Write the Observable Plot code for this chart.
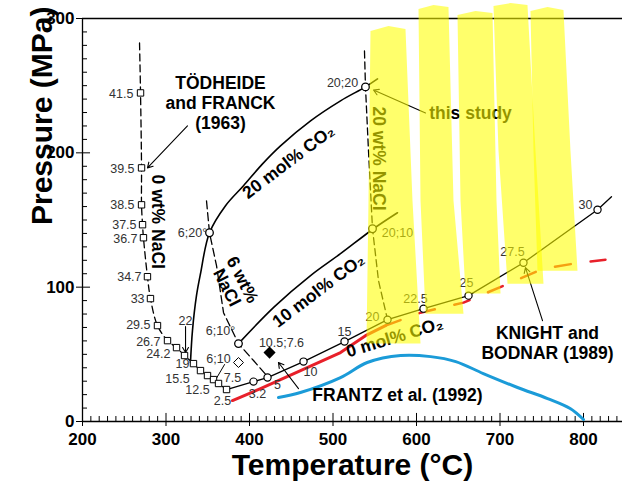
<!DOCTYPE html>
<html><head><meta charset="utf-8">
<script src="https://cdn.jsdelivr.net/npm/d3@7"></script>
<script src="https://cdn.jsdelivr.net/npm/@observablehq/plot@0.6"></script>
<style>html,body{margin:0;padding:0;background:#fff;}</style>
</head><body><div id="chart"></div>
<script>
// ---- axes ----
const xMajor = [200, 300, 400, 500, 600, 700, 800];
const xMinor = [210,220,230,240,250,260,270,280,290,310,320,330,340,350,360,370,380,390,410,420,430,440,450,460,470,480,490,510,520,530,540,550,560,570,580,590,610,620,630,640,650,660,670,680,690,710,720,730,740,750,760,770,780,790,810,820,830,840];
const yMajor = [0, 100, 200, 300];
const yMinor = [10,20,30,40,50,60,70,80,90,110,120,130,140,150,160,170,180,190,210,220,230,240,250,260,270,280,290];

// ---- Tödheide & Franck (1963), 0 wt% NaCl (squares) ----
const tfT = [269.5, 270.7, 270.7, 271.9, 273.0, 277.8, 281.4, 289.8, 301.8, 312.6, 322.2, 332.9, 341.3, 349.7, 356.9, 362.9, 372.5];
const tfP = [244.6, 188.8, 161.3, 146.5, 136.8, 107.8, 91.5, 71.4, 60.2, 55.0, 49.1, 43.1, 37.9, 34.2, 31.2, 28.3, 23.8];
const tfLineT = [268.3, 269.5, 270.7, 270.7, 271.9, 273.0, 277.8, 281.4, 289.8, 301.8, 312.6, 322.2, 332.9, 341.3, 349.7, 356.9, 362.9, 372.5];
const tfLineP = [281.8, 244.6, 188.8, 161.3, 146.5, 136.8, 107.8, 91.5, 71.4, 60.2, 55.0, 49.1, 43.1, 37.9, 34.2, 31.2, 28.3, 23.8];
const tfLabel = ["41.5", "39.5", "38.5", "37.5", "36.7", "34.7", "33", "29.5", "26.7", "24.2"];
const tfLabelT = [261.0, 262.3, 262.3, 264.7, 265.9, 270.7, 274.3, 281.4, 293.4, 305.4];
const tfLabelP = [243.9, 188.1, 161.3, 146.5, 136.0, 107.8, 91.5, 72.1, 59.5, 50.6];

// ---- Knight & Bodnar (1989), 0 mol% CO2 (circles) ----
const kbT = [404.8, 421.6, 464.7, 513.8, 565.3, 608.4, 662.3, 728.1, 816.8];
const kbP = [29.7, 32.7, 44.6, 59.5, 75.8, 84.0, 93.7, 118.2, 157.6];
const kbLineT = [372.5, 404.8, 421.6, 464.7, 513.8, 565.3, 608.4, 662.3, 728.1, 816.8, 833.5];
const kbLineP = [23.8, 29.7, 32.7, 44.6, 59.5, 75.8, 84.0, 93.7, 118.2, 157.6, 167.3];

// ---- this study ----
const studyT = [352.1, 538.9, 547.3, 386.8];
const studyP = [140.5, 249.1, 143.5, 58.0];
const mol20T = [329.3, 331.7, 336.5, 341.3, 352.1, 371.3, 392.8, 415.6, 437.1, 473.1, 509.0, 538.9, 553.3];
const mol20P = [43.9, 67.7, 93.7, 110.0, 140.5, 160.6, 175.5, 191.8, 205.2, 223.8, 238.7, 249.1, 255.0];
const mol10T = [386.8, 429.9, 473.1, 509.0, 548.5, 577.2];
const mol10P = [58.0, 85.5, 108.6, 124.9, 143.5, 155.4];
const wt6T = [348.5, 352.1, 360.5, 368.9, 386.8, 404.8, 422.8];
const wt6P = [164.3, 140.5, 116.0, 81.0, 58.0, 45.4, 32.7];
const wt20T = [537.7, 538.9, 542.5, 547.3, 554.5, 565.3];
const wt20P = [275.8, 249.1, 201.5, 143.5, 104.8, 75.8];

// ---- other points ----
const openDiamondT = [386.8], openDiamondP = [43.9];
const blackDiamondT = [424.0], blackDiamondP = [51.3];

// ---- red curve ----
const redSolidT = [379.6, 413.2, 461.1, 509.0, 538.9, 562.9];
const redSolidP = [15.6, 24.5, 37.9, 51.3, 63.9, 71.4];
const redDashT = [562.9, 604.8, 656.3, 704.2, 752.1, 788.0, 826.3];
const redDashP = [71.4, 81.0, 88.5, 101.1, 113.8, 117.5, 120.4];

// ---- Frantz et al. (1992), blue ----
const blueT = [434.7, 461.0, 509.0, 541.0, 581.0, 617.0, 647.0, 680.0, 721.0, 757.0, 784.0, 800.0];
const blueP = [17.8, 21.6, 32.7, 43.9, 49.1, 48.3, 44.6, 35.7, 25.3, 17.1, 9.7, 1.5];

// ---- point labels ----
const ptLabel = ["22", "19", "15.5", "12.5", "2.5", "7.5", "6;10", "10.5;7.6", "6;10°", "6;20°", "20;20", "20;10", "3.2", "5", "10", "15", "20", "22.5", "25", "27.5", "30"];
const ptLabelT = [323.4, 319.8, 313.8, 337.7, 367.7, 379.6, 362.9, 438.3, 365.3, 331.7, 511.4, 577.2, 409.6, 433.5, 473.0, 513.8, 547.3, 598.8, 659.9, 715.0, 802.4];
const ptLabelP = [75.1, 42.6, 31.8, 23.8, 14.9, 32.7, 46.8, 58.7, 67.7, 140.5, 252.0, 140.5, 20.8, 26.8, 37.2, 66.9, 78.1, 91.5, 103.3, 126.4, 161.3];

// ---- arrows & leaders ----
const arrowT1 = [325.7, 610.8, 458.7, 750.9, 323.4];
const arrowP1 = [220.1, 229.7, 24.5, 75.1, 70.6];
const arrowT2 = [277.8, 548.5, 434.7, 730.5, 323.4];
const arrowP2 = [188.8, 246.8, 43.9, 114.5, 51.3];
const leaderT = [358.1, 370.1], leaderP = [29.7, 42.4];

// ---- highlighter strokes ----
const bandT = [
  [544.9, 566.5, 586.8, 595.2, 604.8, 540.1, 542.5],
  [602.4, 620.4, 638.3, 644.3, 656.3, 610.8, 604.8],
  [649.1, 670.7, 691.0, 695.8, 700.6, 658.7, 652.7],
  [692.2, 712.6, 732.9, 742.5, 752.1, 709.0, 698.2],
  [736.5, 756.9, 776.0, 784.4, 792.8, 744.9, 740.1]
];
const bandP = [
  [290.7, 294.4, 292.2, 164.3, 58.0, 58.0, 164.3],
  [307.1, 310.0, 308.6, 164.3, 80.3, 80.3, 164.3],
  [302.6, 305.6, 304.1, 164.3, 95.2, 95.2, 164.3],
  [309.3, 311.5, 310.0, 201.5, 102.6, 102.6, 201.5],
  [305.6, 308.6, 306.3, 201.5, 112.3, 112.3, 201.5]
];

const rows = (T, P) => T.map((t, i) => ({T: t, P: P[i]}));
const lrows = (L, T, P) => L.map((s, i) => ({s, T: T[i], P: P[i]}));
const bands = bandT.flatMap((ts, b) => ts.map((t, j) => ({b, T: t, P: bandP[b][j]})));
const arrows = arrowT1.map((t, i) => ({x1: t, y1: arrowP1[i], x2: arrowT2[i], y2: arrowP2[i]}));

const F = "'Liberation Sans', Arial, Helvetica, sans-serif";
const bold = {fontWeight: "bold", fontSize: 17.5, fill: "black"};
const lab = {fontSize: 12.5, fill: "#333"};

const chart = Plot.plot({
  width: 622, height: 490,
  marginLeft: 82, marginRight: 0, marginTop: 18, marginBottom: 69,
  x: {domain: [200, 846.7], label: null},
  y: {domain: [0, 300], label: null},
  style: {fontFamily: F, background: "white", color: "black", overflow: "visible"},
  marks: [
    // frame and ticks
    Plot.ruleY([300], {stroke: "black", strokeWidth: 1.3}),
    Plot.ruleY([0], {stroke: "black", strokeWidth: 1.3}),
    Plot.ruleX([200], {stroke: "black", strokeWidth: 1.3}),
    Plot.ruleX(xMinor, {x: d => d, y1: 0, y2: 3.7, stroke: "black"}),
    Plot.ruleX(xMajor, {x: d => d, y1: 0, y2: 6, stroke: "black"}),
    Plot.ruleY(yMinor, {y: d => d, x1: 200, x2: 206, stroke: "black"}),
    Plot.ruleY(yMajor, {y: d => d, x1: 200, x2: 209.6, stroke: "black"}),
    Plot.axisX(xMajor, {tickSize: 5, tickPadding: 6, fontSize: 17, fontWeight: "bold", label: null, fill: "black"}),
    Plot.axisY(yMajor, {tickSize: 6, tickPadding: 2, fontSize: 17, fontWeight: "bold", label: null, fill: "black"}),
    Plot.text(["Temperature (°C)"], {text: d => d, frameAnchor: "bottom", dy: 53, fontSize: 30, fontWeight: "bold"}),
    Plot.text(["Pressure (MPa)"], {text: d => d, frameAnchor: "left", dx: -40, dy: 5, rotate: -90, fontSize: 30, fontWeight: "bold"}),

    // curves
    Plot.line(rows(blueT, blueP), {x: "T", y: "P", stroke: "#1b9bd8", strokeWidth: 3, curve: "catmull-rom"}),
    Plot.line(rows(redSolidT, redSolidP), {x: "T", y: "P", stroke: "#e8202a", strokeWidth: 3}),
    Plot.line(rows(redDashT, redDashP), {x: "T", y: "P", stroke: "#e8202a", strokeWidth: 2.5, strokeDasharray: "16,20"}),
    Plot.line(rows(tfLineT, tfLineP), {x: "T", y: "P", stroke: "black", strokeWidth: 1.3, strokeDasharray: "7,4", curve: "catmull-rom"}),
    Plot.line(rows(wt6T, wt6P), {x: "T", y: "P", stroke: "black", strokeWidth: 1.3, strokeDasharray: "8,4"}),
    Plot.line(rows(wt20T, wt20P), {x: "T", y: "P", stroke: "black", strokeWidth: 1.3, strokeDasharray: "7,4"}),
    Plot.line(rows(mol20T, mol20P), {x: "T", y: "P", stroke: "black", strokeWidth: 1.6, curve: "catmull-rom"}),
    Plot.line(rows(mol10T, mol10P), {x: "T", y: "P", stroke: "black", strokeWidth: 1.6, curve: "catmull-rom"}),
    Plot.line(rows(kbLineT, kbLineP), {x: "T", y: "P", stroke: "black", strokeWidth: 1.3}),
    Plot.line(rows(leaderT, leaderP), {x: "T", y: "P", stroke: "black", strokeWidth: 1}),
    Plot.arrow(arrows, {x1: "x1", y1: "y1", x2: "x2", y2: "y2", stroke: "black", strokeWidth: 1.1, headLength: 8}),

    // symbols
    Plot.dot(rows(tfT, tfP), {x: "T", y: "P", symbol: "square", r: 3.6, fill: "white", stroke: "black", strokeWidth: 1}),
    Plot.dot(rows(kbT, kbP), {x: "T", y: "P", symbol: "circle", r: 3.6, fill: "white", stroke: "black", strokeWidth: 1.2}),
    Plot.dot(rows(studyT, studyP), {x: "T", y: "P", symbol: "circle", r: 3.8, fill: "white", stroke: "black", strokeWidth: 1.3}),
    Plot.dot(rows(openDiamondT, openDiamondP), {x: "T", y: "P", symbol: "diamond2", r: 4.5, fill: "white", stroke: "black", strokeWidth: 1}),
    Plot.dot(rows(blackDiamondT, blackDiamondP), {x: "T", y: "P", symbol: "diamond2", r: 4.5, fill: "black", stroke: "black"}),

    // labels
    Plot.text(lrows(tfLabel, tfLabelT, tfLabelP), {x: "T", y: "P", text: "s", textAnchor: "end", ...lab}),
    Plot.text(lrows(ptLabel, ptLabelT, ptLabelP), {x: "T", y: "P", text: "s", ...lab}),

    // annotations
    Plot.text(["TÖDHEIDE\nand FRANCK\n(1963)"], {x: 365.3, y: 237.2, text: d => d, lineHeight: 1.15, ...bold}),
    Plot.text(["KNIGHT and\nBODNAR (1989)"], {x: 756.9, y: 58.7, text: d => d, lineHeight: 1.15, ...bold}),
    Plot.text(["FRANTZ et al. (1992)"], {x: 577.2, y: 19.3, text: d => d, ...bold}),
    Plot.text(["this study"], {x: 664.7, y: 229.0, text: d => d, ...bold}),
    Plot.text(["0 wt% NaCl"], {x: 289.8, y: 148.7, text: d => d, rotate: 90, ...bold}),
    Plot.text(["20 wt% NaCl"], {x: 554.5, y: 195.8, text: d => d, rotate: 90, ...bold}),
    Plot.text(["6 wt%\nNaCl"], {x: 382.0, y: 102.6, text: d => d, rotate: 63, lineHeight: 1.0, ...bold}),
    Plot.text(["20 mol% CO₂"], {x: 446.7, y: 193.3, text: d => d, rotate: -37, ...bold}),
    Plot.text(["10 mol% CO₂"], {x: 482.6, y: 97.4, text: d => d, rotate: -37, ...bold}),
    Plot.text(["0 mol% CO₂"], {x: 573.7, y: 62.5, text: d => d, rotate: -17, ...bold}),

    // highlighter
    Plot.line(bands, {x: "T", y: "P", z: "b", fill: "#ffff00", fillOpacity: 0.58, stroke: "none", curve: "linear-closed"})
  ]
});
document.getElementById("chart").appendChild(chart);
</script></body></html>
